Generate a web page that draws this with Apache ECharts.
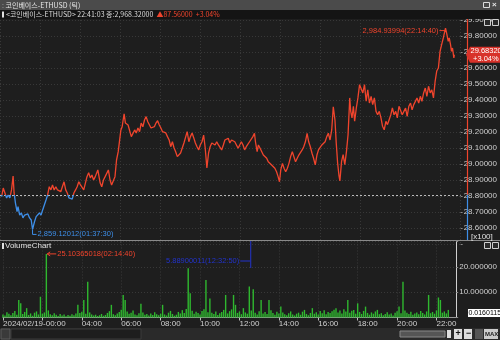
<!DOCTYPE html>
<html><head><meta charset="utf-8">
<script src="https://cdn.jsdelivr.net/npm/echarts@6/dist/echarts.min.js"></script>
<style>html,body{margin:0;padding:0;background:#1e1e1e;}#c{width:500px;height:340px;}</style>
</head><body><div id="c"></div>
<script>
// ---- data (time in hours of 2024/02/19, price in USD) ----
const times = [0.084,0.162,0.246,0.330,0.408,0.492,0.576,0.654,0.703,0.772,0.851,0.900,0.984,1.067,1.146,1.230,1.313,1.392,1.476,1.559,1.625,1.722,1.805,1.884,1.968,2.051,2.130,2.214,2.297,2.376,2.460,2.543,2.622,2.705,2.789,2.868,2.951,3.035,3.114,3.197,3.281,3.360,3.443,3.527,3.606,3.689,3.773,3.852,3.935,4.019,4.098,4.181,4.265,4.344,4.427,4.511,4.590,4.673,4.757,4.885,5.003,5.081,5.165,5.249,5.411,5.495,5.573,5.657,5.741,5.819,5.903,5.987,6.036,6.100,6.149,6.198,6.262,6.311,6.395,6.478,6.557,6.641,6.724,6.803,6.887,6.970,7.049,7.133,7.216,7.295,7.379,7.462,7.541,7.624,7.708,7.787,7.870,7.954,8.033,8.116,8.200,8.279,8.362,8.446,8.525,8.608,8.692,8.771,8.854,8.938,9.017,9.100,9.184,9.263,9.346,9.430,9.508,9.592,9.676,9.755,9.838,9.922,10.000,10.084,10.168,10.246,10.330,10.414,10.492,10.576,10.660,10.738,10.822,10.906,10.984,11.068,11.152,11.230,11.314,11.397,11.476,11.560,11.643,11.722,11.806,11.889,11.968,12.052,12.135,12.214,12.298,12.381,12.460,12.544,12.627,12.706,12.755,12.839,12.903,12.986,13.070,13.149,13.232,13.316,13.395,13.478,13.562,13.641,13.724,13.808,13.886,13.955,14.019,14.103,14.182,14.265,14.349,14.428,14.511,14.595,14.674,14.757,14.841,14.920,15.003,15.087,15.166,15.249,15.333,15.412,15.495,15.579,15.657,15.741,15.825,15.903,15.987,16.071,16.149,16.233,16.317,16.395,16.479,16.563,16.641,16.725,16.789,16.858,16.922,16.971,17.055,17.133,17.217,17.300,17.379,17.463,17.512,17.576,17.645,17.708,17.792,17.871,17.954,18.038,18.117,18.200,18.284,18.363,18.446,18.530,18.609,18.692,18.776,18.855,18.938,19.022,19.100,19.184,19.268,19.346,19.430,19.514,19.592,19.676,19.760,19.838,19.922,20.005,20.084,20.168,20.251,20.330,20.414,20.497,20.576,20.660,20.743,20.822,20.906,20.989,21.068,21.152,21.235,21.314,21.398,21.481,21.560,21.644,21.727,21.806,21.890,21.973,22.052,22.136,22.244,22.298,22.381,22.431,22.495,22.544,22.593,22.662,22.685];
const prices = [2879.6,2885.0,2883.8,2878.8,2880.6,2878.8,2883.8,2892.5,2881.9,2875.6,2870.2,2873.3,2868.1,2869.4,2866.3,2868.1,2867.1,2868.8,2866.3,2865.0,2859.12,2863.9,2867.1,2866.3,2869.4,2868.1,2871.3,2872.5,2877.5,2880.6,2885.8,2883.8,2886.9,2883.8,2885.8,2883.8,2885.0,2882.7,2885.8,2888.9,2883.8,2881.9,2878.8,2880.0,2878.1,2881.9,2883.8,2885.8,2888.9,2886.9,2885.8,2883.8,2885.0,2892.1,2894.6,2891.3,2893.1,2890.0,2892.1,2896.3,2888.1,2885.8,2890.0,2892.1,2896.3,2890.0,2886.9,2888.1,2892.1,2902.5,2907.7,2908.8,2921.3,2923.3,2927.5,2931.3,2925.6,2926.4,2924.4,2925.6,2917.1,2918.1,2921.3,2919.4,2922.5,2920.2,2925.6,2923.3,2927.5,2929.6,2926.4,2925.6,2922.5,2921.3,2923.3,2925.6,2927.1,2924.4,2922.5,2920.2,2921.3,2919.4,2917.1,2915.0,2910.8,2913.9,2910.0,2907.7,2904.6,2903.6,2906.9,2910.0,2913.1,2913.9,2920.2,2913.9,2917.1,2919.4,2916.3,2913.1,2910.8,2908.8,2911.9,2913.9,2918.1,2910.0,2897.5,2906.9,2910.8,2913.1,2913.9,2911.9,2913.9,2911.9,2910.8,2908.8,2911.9,2915.0,2913.9,2916.1,2913.1,2915.0,2916.1,2913.9,2911.9,2909.8,2910.8,2913.9,2911.9,2908.8,2910.8,2911.9,2913.9,2915.0,2917.1,2919.2,2913.9,2907.7,2911.9,2909.8,2910.8,2905.6,2904.6,2903.6,2901.4,2902.5,2899.4,2898.3,2897.3,2895.2,2892.1,2888.9,2896.3,2900.4,2897.3,2895.2,2897.3,2900.4,2904.6,2907.7,2904.6,2901.4,2903.6,2905.6,2906.7,2908.8,2910.8,2913.9,2919.2,2913.9,2910.8,2906.7,2903.6,2899.4,2905.6,2908.8,2909.8,2911.9,2910.8,2913.9,2917.1,2919.2,2915.0,2921.3,2935.8,2927.5,2913.1,2900.6,2893.1,2889.4,2901.7,2905.8,2899.6,2907.9,2918.3,2941.3,2932.9,2928.8,2936.1,2926.7,2935.0,2941.3,2949.6,2950.6,2944.4,2949.6,2939.2,2946.4,2938.1,2942.3,2937.1,2941.3,2932.9,2930.8,2932.9,2928.8,2923.6,2921.4,2926.7,2924.6,2927.7,2930.8,2935.0,2930.8,2932.9,2928.8,2936.1,2937.1,2930.8,2932.9,2935.0,2929.8,2936.1,2938.1,2933.9,2937.1,2936.1,2941.3,2938.1,2942.3,2939.2,2944.4,2947.5,2942.3,2948.6,2944.4,2946.4,2941.3,2951.7,2958.1,2960.0,2970.4,2974.6,2978.8,2984.93994,2981.9,2976.7,2978.8,2974.6,2970.4,2972.5,2966.3,2968.32];
const prevClose = 2880.76;
const lastPrice = 2968.32;
const change = 87.56;
const changePct = 3.04;
// volume per 6-minute bucket starting at 00:00
const volume = [1.2,0.8,2.1,1.5,0.9,1.8,2.6,1.1,6.9,5.6,1.4,2.2,3.7,1.0,1.6,0.7,1.9,2.4,1.2,8.2,
1.5,2.0,25.1,2.8,1.3,0.9,1.7,1.1,0.6,1.4,0.8,1.2,0.5,1.0,0.7,1.3,0.9,1.6,5.0,1.8,
2.3,6.9,1.5,14.1,2.0,1.2,0.8,1.1,0.6,0.9,1.4,0.7,1.0,1.8,2.5,5.0,1.3,0.9,1.6,2.2,
3.1,8.9,6.9,2.4,1.5,1.9,2.8,1.2,0.9,1.7,5.4,2.0,1.1,1.4,0.8,1.6,1.0,2.1,1.3,0.9,
1.5,5.0,1.2,0.8,1.9,2.6,1.4,0.7,1.1,2.2,1.6,2.9,1.8,3.4,19.4,9.6,2.7,1.5,2.3,1.8,
1.2,2.6,3.3,14.8,2.1,7.5,1.9,1.4,2.4,1.0,1.7,2.2,3.0,8.9,1.6,2.5,3.2,8.9,5.0,1.8,
2.4,1.3,3.7,2.0,1.5,12.2,2.8,11.2,1.9,1.2,2.5,6.9,1.6,2.2,1.4,6.9,2.9,1.8,1.1,2.3,
1.6,4.3,2.0,1.3,0.9,1.7,2.4,1.2,0.8,1.5,1.9,1.1,2.3,3.0,1.4,0.9,1.8,3.7,1.5,2.1,
1.2,2.6,1.7,2.9,1.3,2.2,1.8,2.5,3.1,3.7,2.0,2.8,1.6,3.3,2.4,6.9,1.9,2.7,3.0,1.5,
5.6,2.2,1.4,2.6,4.3,1.8,1.1,2.0,1.5,2.4,3.0,1.3,1.7,0.9,1.4,2.1,1.2,1.6,0.8,1.9,
2.5,4.3,1.7,14.1,2.8,1.9,1.4,2.3,1.1,1.6,2.0,1.3,2.6,1.8,1.2,2.4,8.9,1.7,2.2,1.5,
2.8,7.9,6.9,1.9,2.4,1.6,3.0];
const volStepHours = 0.1;
const maxVol = {t: 2.244, v: 25.10365018, label: '25.10365018(02:14:40)'};
const maxPt = {t: 22.244, p: 2984.93994, label: '2,984.93994(22:14:40)'};
const minPt = {t: 1.625, p: 2859.12012, label: '2,859.12012(01:37:30)'};
const blueVol = {t: 12.548, v: 5.88900011, label: '5.88900011(12:32:50)'};
const dateLabel = '2024/02/19-00:00';

const RED = '#f0442c', BLUE = '#3d8ee8', GRID = '#383838';
const FONT = '"Liberation Sans Narrow","Liberation Sans",sans-serif';
const KFONT = '"Noto Sans CJK KR",sans-serif';

const linePts = times.map((t, i) => [t, prices[i]]);
const volPts = volume.map((v, i) => [+(i * volStepHours).toFixed(2), v]);

const chart = echarts.init(document.getElementById('c'), null, {renderer: 'canvas'});
const option = {
  backgroundColor: '#1e1e1e',
  animation: false,
  grid: [
    {left: 0, top: 20, width: 467, height: 224},
    {left: 0, top: 241.5, width: 467, height: 76}
  ],
  xAxis: [
    {gridIndex: 0, type: 'value', min: 0, max: 23, interval: 2,
     axisLine: {show: false}, axisTick: {show: false}, axisLabel: {show: false},
     splitLine: {show: true, lineStyle: {color: GRID, type: [1, 2]}}},
    {gridIndex: 1, type: 'value', min: 0, max: 23, interval: 2,
     axisLine: {show: true, onZero: false, lineStyle: {color: '#9a9a9a'}},
     axisTick: {show: true, length: 3, lineStyle: {color: '#bdbdbd'}},
     splitLine: {show: true, lineStyle: {color: GRID, type: [1, 2]}},
     axisLabel: {color: '#d0d0d0', fontSize: 8, fontFamily: FONT, align: 'left', margin: 2,
       formatter: v => v === 0 ? dateLabel : (v === 2 ? '' : String(v).padStart(2, '0') + ':00')}}
  ],
  yAxis: [
    {gridIndex: 0, type: 'value', position: 'right', min: 2850, max: 2990, interval: 10,
     axisLine: {show: false, onZero: false}, axisTick: {show: true, length: 2, lineStyle: {color: '#888'}},
     splitLine: {show: true, lineStyle: {color: GRID, type: [1, 2]}},
     axisLabel: {color: '#cfcfcf', fontSize: 8, fontFamily: FONT, margin: 3,
       formatter: v => v <= 2850 ? '' : (v / 100).toFixed(5)}},
    {gridIndex: 1, type: 'value', position: 'right', min: 0, max: 30, interval: 10,
     axisLine: {show: true, onZero: false, lineStyle: {color: '#d0d0d0'}},
     axisTick: {show: true, length: 2, lineStyle: {color: '#888'}},
     splitLine: {show: true, lineStyle: {color: GRID, type: [1, 2]}},
     axisLabel: {color: '#cfcfcf', fontSize: 8, fontFamily: FONT, margin: 3,
       formatter: v => (v === 0 || v === 30) ? '' : v.toFixed(6)}}
  ],
  series: [
    {type: 'line', xAxisIndex: 0, yAxisIndex: 0, data: linePts, showSymbol: false,
     lineStyle: {width: 1.3, color: RED}, z: 5,
     markLine: {silent: true, symbol: 'none', label: {show: false},
       lineStyle: {color: '#bbbbbb', type: [2, 2], width: 1},
       data: [{yAxis: prevClose}]}},
    {type: 'bar', xAxisIndex: 1, yAxisIndex: 1, data: volPts, barWidth: 1.4,
     itemStyle: {color: '#2fb82f'}, z: 3}
  ]
};
chart.setOption(option);

function px(gi, x, y) { return chart.convertToPixel({gridIndex: gi}, [x, y]); }
const pBase = px(0, 0, prevClose);
const pLast = px(0, 22.685, lastPrice);
const pMax = px(0, maxPt.t, maxPt.p);
const pMin = px(0, minPt.t, minPt.p);
const pVmax = px(1, maxVol.t, maxVol.v);
const pBlue = px(1, blueVol.t, blueVol.v);

const off = pBase[1] / 340;
chart.setOption({series: [{lineStyle: {color: {type: 'linear', x: 0, y: 0, x2: 0, y2: 340, global: true,
  colorStops: [{offset: 0, color: RED}, {offset: off, color: RED}, {offset: off, color: BLUE}, {offset: 1, color: BLUE}]}}}]});

const txt = (x, y, s, fill, opts) => ({type: 'text', x, y, z: 50,
  style: Object.assign({text: s, fill, font: '8px ' + FONT, textVerticalAlign: 'middle'}, opts || {})});
const line = (x1, y1, x2, y2, stroke, w) => ({type: 'line', shape: {x1, y1, x2, y2}, style: {stroke, lineWidth: w || 1}, z: 40});
const rect = (x, y, w, h, fill, stroke) => ({type: 'rect', shape: {x, y, width: w, height: h}, style: {fill, stroke: stroke || null, lineWidth: 1}, z: 30});

const ly = pLast[1];
const g = [
  // title bar
  rect(0, 0, 500, 10, '#4b4b4b'),
  txt(2, 5, 'ː 코인베이스-ETHUSD (틱)', '#e6e6e6', {font: '7px ' + KFONT}),
  rect(483.5, 2.5, 6, 5, null, '#dcdcdc'),
  txt(492, 5, '×', '#e6e6e6', {font: 'bold 8px ' + FONT}),
  // info line
  rect(0, 10, 500, 9, '#141414'),
  rect(2, 11.5, 2, 6, '#e0e0e0'),
  {type: 'text', x: 6, y: 14.5, z: 50, style: {
    text: '{w|<코인베이스-ETHUSD> 22:41:03 종:2,968.32000}{r|  ▲' + change.toFixed(5) + '  +' + changePct.toFixed(2) + '%}',
    textVerticalAlign: 'middle', font: '7px ' + KFONT,
    rich: {w: {fill: '#dcdcdc', font: '7px ' + KFONT}, r: {fill: RED, font: '7px ' + KFONT}}}},
  // right axis colored line
  line(467.5, 19, 467.5, pBase[1], RED, 1.2),
  line(467.5, pBase[1], 467.5, 240, BLUE, 1.2),
  // pane separator
  line(0, 240.5, 500, 240.5, '#8a8a8a', 1),
  // small window icons in panes
  rect(484.5, 19.5, 6, 6, '#2a2a2a', '#cfcfcf'),
  rect(492.5, 19.5, 6, 6, '#2a2a2a', '#cfcfcf'),
  rect(484.5, 242.5, 6, 6, '#2a2a2a', '#cfcfcf'),
  rect(492.5, 242.5, 6, 6, '#2a2a2a', '#cfcfcf'),
  // last price tag
  {type: 'polygon', z: 45, shape: {points: [[466, ly], [470, ly - 8], [500, ly - 8], [500, ly + 8], [470, ly + 8]]}, style: {fill: '#d8322a'}},
  txt(470.5, ly - 3.8, (lastPrice / 100).toFixed(5), '#ffffff', {font: '7.5px ' + FONT}),
  txt(473, ly + 4, '+' + changePct.toFixed(2) + '%', '#ffffff', {font: '7.5px ' + FONT}),
  // x100 marker
  txt(471, 237, '[x100]', '#e0e0e0', {font: '8px ' + FONT}),
  // max annotation
  line(pMax[0] - 6, pMax[1] + 2.5, pMax[0], pMax[1] + 2.5, RED, 1),
  txt(pMax[0] - 7, pMax[1] + 2.5, maxPt.label, RED, {font: '7.5px ' + FONT, textAlign: 'right'}),
  // min annotation
  line(pMin[0], pMin[1], pMin[0], pMin[1] + 5, BLUE, 1),
  line(pMin[0], pMin[1] + 5, pMin[0] + 4, pMin[1] + 5, BLUE, 1),
  txt(pMin[0] + 5, pMin[1] + 5, minPt.label, BLUE, {font: '7.5px ' + FONT}),
  // volume pane label
  rect(2, 243, 2, 6, '#e0e0e0'),
  txt(5, 246, 'VolumeChart', '#e0e0e0', {font: '8px ' + FONT}),
  // volume max annotation
  line(pVmax[0], pVmax[1], pVmax[0] + 9, pVmax[1], RED, 1),
  line(pVmax[0], pVmax[1], pVmax[0] + 3, pVmax[1] - 2, RED, 1),
  line(pVmax[0], pVmax[1], pVmax[0] + 3, pVmax[1] + 2, RED, 1),
  txt(pVmax[0] + 10, pVmax[1], maxVol.label, RED, {font: '7.5px ' + FONT}),
  // blue volume marker
  line(pBlue[0] + 0.5, 241, pBlue[0] + 0.5, 268, '#2233cc', 1),
  line(pBlue[0] - 10, 261, pBlue[0], 261, '#2233cc', 1),
  txt(pBlue[0] - 11, 261, blueVol.label, '#2233cc', {font: '7.5px ' + FONT, textAlign: 'right'}),
  // min volume label
  rect(468, 309, 32, 8, '#ffffff'),
  txt(468.5, 313, '0.0160115', '#000000', {font: '7px ' + FONT}),
  // bottom scroll bar
  rect(0, 328, 500, 12, '#2a2a2a'),
  rect(1, 329, 9, 10, '#3a3a3a', '#5a5a5a'),
  rect(11, 329, 130, 10, '#1e1e1e', '#3a3a3a'),
  rect(400, 331, 45, 6, '#555555', '#888'),
  rect(447, 330, 4, 8, '#dddddd'),
  rect(454, 329, 8, 10, '#dddddd'),
  txt(455.5, 334, '+', '#111', {font: 'bold 9px ' + FONT}),
  rect(464, 329, 8, 10, '#dddddd'),
  txt(466, 334, '−', '#111', {font: 'bold 9px ' + FONT}),
  rect(475, 329, 8, 10, '#555555'),
  rect(484, 329, 14, 10, '#cccccc'),
  txt(485, 334, 'MAX', '#222', {font: 'bold 6px ' + FONT})
];
chart.setOption({graphic: g});
</script></body></html>
